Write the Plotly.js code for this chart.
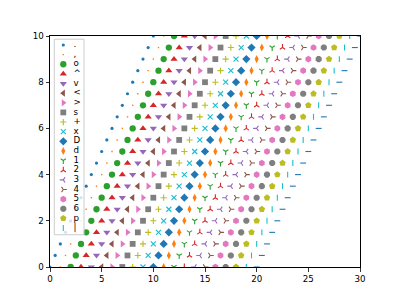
<!DOCTYPE html>
<html>
<head>
<meta charset="utf-8">
<script src="https://cdn.plot.ly/plotly-3.0.1.min.js"></script>
<style>html,body{margin:0;padding:0;background:#fff;}#chart{width:400px;height:300px;}</style>
</head>
<body>
<div id="chart"></div>
<script>
// ---- data ----
const labels = ['.', ',', 'o', '^', 'v', '<', '>', 's', '+', 'x', 'D', 'd', '1', '2', '3', '4', '5', '6', 'p', '|', '_'];
const offsets = [0, 1, 2, 3, 4, 5, 6, 7, 8, 9, 10, 11, 12, 13, 14, 15, 16, 17, 18, 19, 20];
const yValues = [0, 0.5, 1, 1.5, 2, 2.5, 3, 3.5, 4, 4.5, 5, 5.5, 6, 6.5, 7, 7.5, 8, 8.5, 9, 9.5, 10];
const xTicks = [0, 5, 10, 15, 20, 25, 30];
const yTicks = [0, 2, 4, 6, 8, 10];

// ---- styles ----
const palette = ['#1f77b4', '#ff7f0e', '#2ca02c', '#d62728', '#9467bd', '#8c564b', '#e377c2', '#7f7f7f', '#bcbd22', '#17becf'];
const markerStyle = {
  '.': {symbol: 'circle', size: 3.2},
  ',': {symbol: 'square', size: 1.4},
  'o': {symbol: 'circle', size: 6.3},
  '^': {symbol: 'triangle-up', size: 6.3},
  'v': {symbol: 'triangle-down', size: 6.3},
  '<': {symbol: 'triangle-left', size: 6.3},
  '>': {symbol: 'triangle-right', size: 6.3},
  's': {symbol: 'square', size: 5.8},
  '+': {symbol: 'cross-thin-open', size: 4.4, line: true},
  'x': {symbol: 'x-thin-open', size: 5, line: true},
  'D': {symbol: 'diamond', size: 6.3},
  'd': {symbol: 'diamond-tall', size: 5.8},
  '1': {symbol: 'y-down-open', size: 4.4, line: true},
  '2': {symbol: 'y-up-open', size: 4.4, line: true},
  '3': {symbol: 'y-left-open', size: 4.4, line: true},
  '4': {symbol: 'y-right-open', size: 4.4, line: true},
  '5': {symbol: 'hexagon', size: 6.6},
  '6': {symbol: 'octagon', size: 6.6},
  'p': {symbol: 'pentagon', size: 6.8},
  '|': {symbol: 'line-ns-open', size: 4.2, line: true},
  '_': {symbol: 'line-ew-open', size: 4.2, line: true}
};

function markerFor(i) {
  const st = markerStyle[labels[i]];
  const c = palette[i % palette.length];
  if (st.line) {
    return {symbol: st.symbol, size: st.size, color: c, line: {color: c, width: 1.1}};
  }
  return {symbol: st.symbol, size: st.size, color: c, line: {width: 0}};
}

const traces = [];
labels.forEach((lab, i) => {
  traces.push({
    type: 'scatter', mode: 'markers',
    x: yValues.map(v => v + offsets[i]),
    y: yValues,
    marker: markerFor(i),
    name: lab, showlegend: false, hoverinfo: 'skip',
    xaxis: 'x', yaxis: 'y'
  });
});

// custom compact legend (matplotlib style) in an overlay coordinate system
const legendIdx = [];
labels.forEach((lab, i) => { if (lab[0] !== '_') legendIdx.push(i); });
legendIdx.forEach((i, k) => {
  traces.push({
    type: 'scatter', mode: 'markers',
    x: [13.3], y: [k],
    marker: markerFor(i),
    showlegend: false, hoverinfo: 'skip', cliponaxis: false,
    xaxis: 'x2', yaxis: 'y2'
  });
});
traces.push({
  type: 'scatter', mode: 'text',
  x: legendIdx.map(() => 23.5), y: legendIdx.map((_, k) => k),
  text: legendIdx.map(i => labels[i]),
  textposition: 'middle right',
  textfont: {family: 'DejaVu Sans', size: 8.7, color: '#000'},
  marker: {size: 1},
  showlegend: false, hoverinfo: 'skip', cliponaxis: false,
  xaxis: 'x2', yaxis: 'y2'
});

const axisCommon = {
  showgrid: false, zeroline: false,
  showline: true, mirror: true, linecolor: '#000', linewidth: 1,
  ticks: 'outside', ticklen: 3.5, tickwidth: 0.8, tickcolor: '#000',
  tickfont: {family: 'DejaVu Sans', size: 8.7, color: '#000'}
};

const layout = {
  width: 400, height: 300,
  margin: {l: 50, r: 40, t: 36, b: 33, pad: 0},
  paper_bgcolor: '#fff', plot_bgcolor: 'rgba(0,0,0,0)',
  showlegend: false,
  xaxis: Object.assign({}, axisCommon, {range: [0, 30], tickvals: xTicks, ticktext: xTicks.map(String)}),
  yaxis: Object.assign({}, axisCommon, {range: [0, 10], tickvals: yTicks, ticktext: yTicks.map(String)}),
  xaxis2: {domain: [0, 1], anchor: 'y2', range: [0, 310], visible: false, fixedrange: true},
  yaxis2: {domain: [0, 1], anchor: 'x2', range: [23.05, -0.935], visible: false, fixedrange: true},
  shapes: [{
    type: 'rect', xref: 'x2', yref: 'y2', layer: 'below',
    x0: 4.3, x1: 34, y0: -0.6, y1: 19.7,
    fillcolor: 'rgba(255,255,255,0.8)',
    line: {color: '#cccccc', width: 1}
  }]
};

Plotly.newPlot('chart', traces, layout, {staticPlot: true, displayModeBar: false});
</script>
</body>
</html>
